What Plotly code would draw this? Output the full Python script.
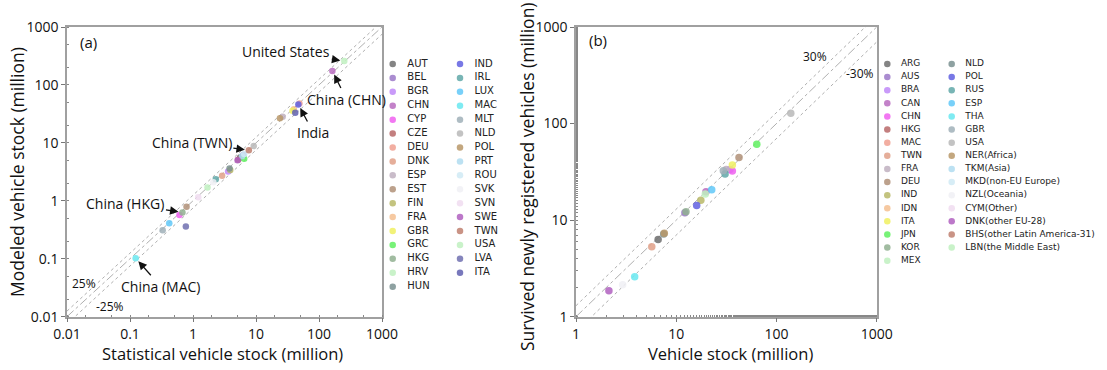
import math
import plotly.graph_objects as go

W, H = 1107, 370

# ---------------- Data: panel (a) ----------------
a_codes = ["AUT", "BEL", "BGR", "CHN", "CYP", "CZE", "DEU", "DNK", "ESP", "EST", "FIN",
           "FRA", "GBR", "GRC", "HKG", "HRV", "HUN", "IND", "IRL", "LUX", "MAC", "MLT",
           "NLD", "POL", "PRT", "ROU", "SVK", "SVN", "SWE", "TWN", "USA", "LVA", "ITA"]
a_stat = [5.6, 6.3, 3.6, 163, 0.61, 5.2, 49, 2.9, 26.5, 0.79, 3.9,
          40, 38, 6.5, 0.68, 1.7, 3.8, 47, 2.3, 0.42, 0.123, 0.33,
          9.2, 24, 6.0, 6.5, 2.1, 1.21, 5.1, 7.7, 252, 0.77, 42]
a_model = [5.6, 6.2, 3.2, 174, 0.57, 5.1, 48, 2.7, 28.3, 0.79, 3.4,
           38, 36, 5.3, 0.63, 1.7, 3.6, 46, 2.35, 0.41, 0.102, 0.31,
           8.8, 26.6, 5.9, 6.4, 2.1, 1.15, 5.0, 7.45, 259, 0.36, 33.2]

# ---------------- Data: panel (b) ----------------
b_codes = ["ARG", "AUS", "BRA", "CAN", "CHN", "HKG", "MAC", "TWN", "FRA", "DEU", "IND",
           "IDN", "ITA", "JPN", "KOR", "MEX", "NLD", "POL", "RUS", "ESP", "THA", "GBR",
           "USA", "NER(Africa)", "TKM(Asia)", "MKD(non-EU Europe)", "NZL(Oceania)",
           "CYM(Other)", "DNK(other EU-28)", "BHS(other Latin America-31)",
           "LBN(the Middle East)"]
b_stock = [6.6, 12.2, 34.4, 19.8, 36.3, None, None, 5.7, 31.5, 42.3, 17.6,
           None, 36.3, 63.6, 12.5, 19.5, 7.5, 16.0, 30.7, 22.6, 3.85, 29.5,
           139, 7.6, None, None, 2.92, None, 2.13, None, None]
b_survived = [6.3, 11.9, 33.5, 19.7, 32.3, None, None, 5.3, 33.5, 44.4, 16.1,
              None, 37.2, 61.0, 12.2, 18.6, 7.2, 14.2, 30.0, 20.6, 2.6, 32.5,
              128, 7.3, None, None, 2.14, None, 1.86, None, None]

# shared colour sequence (legend order)
palette = ["#6e6e6e", "#9b78c8", "#c088f8", "#b86cc0", "#f060f0", "#b86868", "#f0a090",
           "#e0a088", "#c0b0c0", "#b09078", "#b8b868", "#f4c090", "#f0f060", "#60f060",
           "#90b090", "#c0f0c0", "#7a9090", "#6060e0", "#60a8a8", "#60c8f8", "#68e8f0",
           "#a0b0b8", "#b8b8b8", "#b89868", "#b0dcf0", "#d0eaf4", "#f0f0f4", "#f0dcf0",
           "#b060c0", "#c08070", "#c0f0c0", "#7070b0", "#6060b0"]

ratios_a = [1.25, 1.0, 0.75]
ratios_b = [1.3, 1.0, 0.7]
line_dash = ["dot", "dashdot", "dot"]

a_ticks = [0.01, 0.1, 1, 10, 100, 1000]
a_ticktext = ["0.01", "0.1", "1", "10", "100", "1000"]
b_ticks = [1, 10, 100, 1000]
b_ticktext = ["1", "10", "100", "1000"]

FONT = "Open Sans"
LEG_FONT = "DejaVu Sans"

fig = go.Figure()

# reference lines
for r, d in zip(ratios_a, line_dash):
    xs = [a_ticks[0], a_ticks[-1]]
    fig.add_trace(go.Scatter(x=xs, y=[v * r for v in xs], mode="lines",
                             line=dict(color="#9a9a9a", width=0.8, dash=d),
                             showlegend=False, hoverinfo="skip", xaxis="x", yaxis="y"))
for r, d in zip(ratios_b, line_dash):
    xs = [b_ticks[0], b_ticks[-1]]
    fig.add_trace(go.Scatter(x=xs, y=[v * r for v in xs], mode="lines",
                             line=dict(color="#9a9a9a", width=0.8, dash=d),
                             showlegend=False, hoverinfo="skip", xaxis="x2", yaxis="y2"))

# points
for i, c in enumerate(a_codes):
    fig.add_trace(go.Scatter(x=[a_stat[i]], y=[a_model[i]], mode="markers", name=c,
                             marker=dict(size=6.5, color=palette[i], opacity=0.85),
                             showlegend=False, xaxis="x", yaxis="y"))
for i, c in enumerate(b_codes):
    fig.add_trace(go.Scatter(x=[b_stock[i]], y=[b_survived[i]], mode="markers", name=c,
                             marker=dict(size=7.5, color=palette[i], opacity=0.85),
                             showlegend=False, xaxis="x2", yaxis="y2"))

# custom two-column legends
def add_legend(codes, ncol1, xa, ya, fsize):
    for col in range(2):
        idx = list(range(ncol1)) if col == 0 else list(range(ncol1, len(codes)))
        fig.add_trace(go.Scatter(
            x=[col] * len(idx), y=[k - (0 if col == 0 else ncol1) for k in idx],
            mode="markers+text",
            text=["\u00a0\u00a0\u00a0" + codes[k] for k in idx],
            textposition="middle right",
            textfont=dict(family=LEG_FONT, size=fsize, color="#222"),
            marker=dict(size=6.5, color=[palette[k] for k in idx], opacity=0.85),
            cliponaxis=False, showlegend=False, hoverinfo="skip",
            xaxis=xa, yaxis=ya))

add_legend(a_codes, 17, "x3", "y3", 10)
add_legend(b_codes, 16, "x4", "y4", 9)

def px(v):
    return v / W

def py(v):
    return 1 - v / H

axis_common = dict(type="log", showgrid=False, zeroline=False, showline=True,
                   automargin=False,
                   linecolor="#a0a0a0", linewidth=1.5, mirror=True,
                   ticks="outside", ticklen=4, tickcolor="#777", tickwidth=1,
                   tickfont=dict(family=FONT, size=14, color="#111"),
                   minor=dict(ticks="inside", ticklen=2, tickcolor="#888", showgrid=False))
hidden = dict(visible=False, automargin=False, showgrid=False, zeroline=False)

fig.update_layout(
    width=W, height=H, margin=dict(l=0, r=0, t=0, b=0, autoexpand=False),
    paper_bgcolor="white", plot_bgcolor="white", showlegend=False,
    xaxis=dict(axis_common, domain=[px(67), px(382)], range=[-2, 3],
               tickvals=a_ticks, ticktext=a_ticktext, anchor="y"),
    yaxis=dict(axis_common, domain=[py(316.7), py(27)], range=[-2, 3],
               tickvals=a_ticks, ticktext=a_ticktext, anchor="x"),
    xaxis2=dict(axis_common, domain=[px(576), px(876.7)], range=[0, 3],
                tickvals=b_ticks, ticktext=b_ticktext, anchor="y2"),
    yaxis2=dict(axis_common, domain=[py(316.7), py(27)], range=[0, 3],
                tickvals=b_ticks, ticktext=b_ticktext, anchor="x2"),
    xaxis3=dict(hidden, domain=[px(392.7), px(460)], range=[0, 1], anchor="y3"),
    yaxis3=dict(hidden, domain=[py(286.7), py(64)], range=[16, 0], anchor="x3"),
    xaxis4=dict(hidden, domain=[px(887.3), px(951.7)], range=[0, 1], anchor="y4"),
    yaxis4=dict(hidden, domain=[py(260.7), py(64)], range=[15, 0], anchor="x4"),
)

ann = []
def paper_text(text, x, y, size, angle=0):
    ann.append(dict(text=text, x=px(x), y=py(y), xref="paper", yref="paper",
                    xanchor="center", yanchor="middle", showarrow=False, textangle=angle,
                    font=dict(family=FONT, size=size, color="#111")))

# axis titles
paper_text("Statistical vehicle stock (million)", 222, 353, 16.5)
paper_text("Modeled vehicle stock (million)", 17, 172, 17.5, -90)
paper_text("Vehicle stock (million)", 730, 353, 16.5)
paper_text("Survived newly registered vehicles (million)", 527, 177, 17.5, -90)
# panel labels and percent labels
paper_text("(a)", 88, 42, 15)
paper_text("(b)", 598, 40, 15)
paper_text("25%", 84, 283, 12)
paper_text("-25%", 110, 306, 12)
paper_text("30%", 815, 57, 12)
paper_text("-30%", 860, 73, 12)

# arrow callouts in panel (a)
callouts = [("United States", "USA", -58, -9), ("China (CHN)", "CHN", 14, 28),
            ("India", "IND", 15, 28), ("China (TWN)", "TWN", -57, -8),
            ("China (HKG)", "HKG", -57, -9), ("China (MAC)", "MAC", 25, 28)]
for text, code, axp, ayp in callouts:
    k = a_codes.index(code)
    ann.append(dict(text=text, x=math.log10(a_stat[k]), y=math.log10(a_model[k]),
                    xref="x", yref="y", ax=axp, ay=ayp, showarrow=True,
                    arrowhead=2, arrowsize=1.3, arrowwidth=1.3, arrowcolor="#111",
                    standoff=4, font=dict(family=FONT, size=14, color="#111")))

fig.update_layout(annotations=ann)
fig.write_html("out.html", post_script="document.body.style.margin='0';",
               config={"displayModeBar": False})
